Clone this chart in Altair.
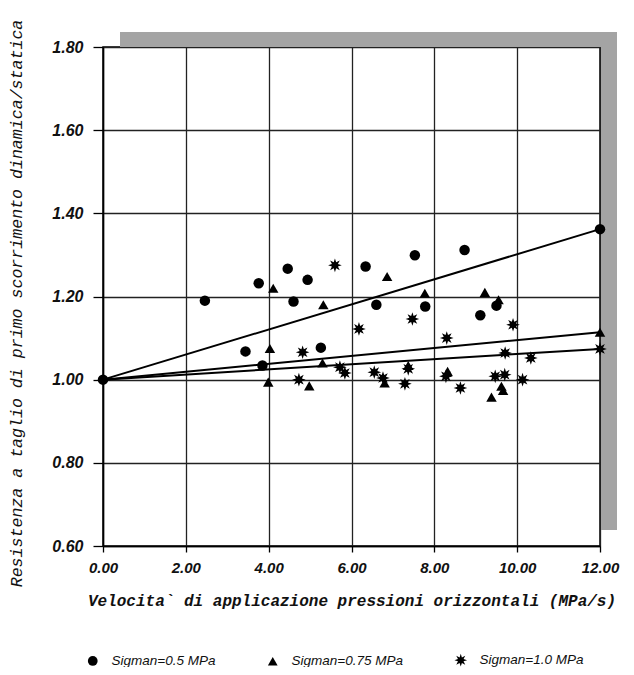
import math
import altair as alt
import pandas as pd

# ---- data ----
series_names = ["Sigman=0.5 MPa", "Sigman=0.75 MPa", "Sigman=1.0 MPa"]

x_s05 = [0.0, 2.46, 3.44, 3.76, 3.85, 4.46, 4.60, 4.94, 5.26, 6.34, 6.60, 7.53, 7.78, 8.73, 9.11, 9.50, 12.0]
y_s05 = [1.000, 1.190, 1.068, 1.232, 1.034, 1.267, 1.188, 1.240, 1.077, 1.272, 1.180, 1.299, 1.176, 1.312, 1.155, 1.178, 1.362]

x_s075 = [4.11, 4.03, 3.99, 5.32, 5.30, 4.98, 6.86, 7.77, 6.80, 7.37, 8.32, 9.22, 9.55, 9.62, 9.66, 9.38, 12.0]
y_s075 = [1.220, 1.075, 0.994, 1.180, 1.040, 0.985, 1.248, 1.208, 0.992, 1.034, 1.020, 1.210, 1.192, 0.984, 0.974, 0.958, 1.114]

x_s10 = [5.60, 4.82, 4.73, 5.72, 5.84, 6.18, 7.47, 8.30, 6.55, 6.76, 7.29, 7.37, 8.28, 8.63, 9.90, 9.71, 10.33, 9.47, 9.70, 10.13, 12.0]
y_s10 = [1.275, 1.066, 1.000, 1.030, 1.016, 1.122, 1.146, 1.100, 1.018, 1.004, 0.990, 1.026, 1.008, 0.980, 1.132, 1.064, 1.052, 1.008, 1.012, 1.000, 1.074]

# regression lines: all start at (0, 1.00)
line_x = [0.0, 12.0]
line_start = 1.00
line_end = [1.362, 1.114, 1.074]

x_ticks = [0, 2, 4, 6, 8, 10, 12]
y_ticks = [0.6, 0.8, 1.0, 1.2, 1.4, 1.6, 1.8]

x_title = "Velocita` di applicazione pressioni orizzontali (MPa/s)"
y_title = "Resistenza a taglio di primo scorrimento dinamica/statica"

# ---- tables ----
pts = pd.concat([
    pd.DataFrame({"x": x_s05, "y": y_s05, "series": series_names[0]}),
    pd.DataFrame({"x": x_s075, "y": y_s075, "series": series_names[1]}),
    pd.DataFrame({"x": x_s10, "y": y_s10, "series": series_names[2]}),
], ignore_index=True)

lines = pd.DataFrame([
    {"x": xv, "y": (line_start if xv == line_x[0] else end), "series": name}
    for name, end in zip(series_names, line_end) for xv in line_x
])

# 8-spike asterisk marker
verts = []
for i in range(16):
    a = i * math.pi / 8 - math.pi / 2
    r = 1.3 if i % 2 == 0 else 0.62
    verts.append(f"{r*math.cos(a):.3f},{r*math.sin(a):.3f}")
star_path = "M" + " L".join(verts) + " Z"

W, H = 497, 499

xscale = alt.Scale(domain=[0, 12], nice=False, zero=False)
yscale = alt.Scale(domain=[0.6, 1.8], nice=False, zero=False)

xaxis = alt.Axis(
    values=x_ticks, format=".2f", grid=True, gridColor="#222222", gridWidth=1.3,
    domainColor="black", domainWidth=1.5, tickColor="black", tickSize=6, tickWidth=1.3,
    labelFont="Liberation Sans", labelFontStyle="italic", labelFontWeight="bold",
    labelFontSize=15, labelColor="#111111", labelPadding=8, labelFlush=False,
    title=x_title, titleFont="Liberation Mono", titleFontStyle="italic",
    titleFontWeight="bold", titleFontSize=16, titleColor="#111111", titlePadding=17,
)
yaxis = alt.Axis(
    values=y_ticks, format=".2f", grid=True, gridColor="#222222", gridWidth=1.3,
    domainColor="black", domainWidth=1.5, tickColor="black", tickSize=10, tickWidth=1.3,
    labelFont="Liberation Sans", labelFontStyle="italic", labelFontWeight="bold",
    labelFontSize=16, labelColor="#111111", labelPadding=10, labelFlush=False,
    title=y_title, titleFont="Liberation Mono", titleFontStyle="italic",
    titleFontWeight="normal", titleFontSize=16.6, titleColor="#111111", titlePadding=27,
    titleY=256,
)

one = pd.DataFrame({"a": [0]})
shadow_top = alt.Chart(one).mark_rect(color="#a4a4a4").encode(
    x=alt.value(17), x2=alt.value(W + 17), y=alt.value(-15), y2=alt.value(0)
)
shadow_right = alt.Chart(one).mark_rect(color="#a4a4a4").encode(
    x=alt.value(W + 1), x2=alt.value(W + 17), y=alt.value(-15), y2=alt.value(H - 16)
)

line_layer = alt.Chart(lines).mark_line(color="black", strokeWidth=2).encode(
    x=alt.X("x:Q", scale=xscale, axis=xaxis),
    y=alt.Y("y:Q", scale=yscale, axis=yaxis),
    detail="series:N",
)

point_layer = alt.Chart(pts).mark_point(filled=True, opacity=1, color="black", size=110).encode(
    x=alt.X("x:Q", scale=xscale, axis=xaxis),
    y=alt.Y("y:Q", scale=yscale, axis=yaxis),
    shape=alt.Shape(
        "series:N",
        scale=alt.Scale(domain=series_names, range=["circle", "triangle-up", star_path]),
        legend=alt.Legend(
            title=None, orient="none", legendX=-17, legendY=606, direction="horizontal",
            columnPadding=48,
            labelFont="Liberation Sans", labelFontStyle="italic", labelFontSize=13.5,
            labelColor="#111111", labelOffset=12, symbolSize=95,
            symbolFillColor="black", symbolStrokeColor="black",
        ),
    ),
)

chart = alt.layer(shadow_top, shadow_right, line_layer, point_layer).properties(
    width=W, height=H,
    autosize=alt.AutoSizeParams(type="none"),
    padding={"left": 95, "top": 39, "right": 26, "bottom": 121},
    background="white",
).configure_view(stroke="black", strokeWidth=1.5, fill="white")

chart.save("out.html", embed_options={"renderer": "svg", "actions": False})
